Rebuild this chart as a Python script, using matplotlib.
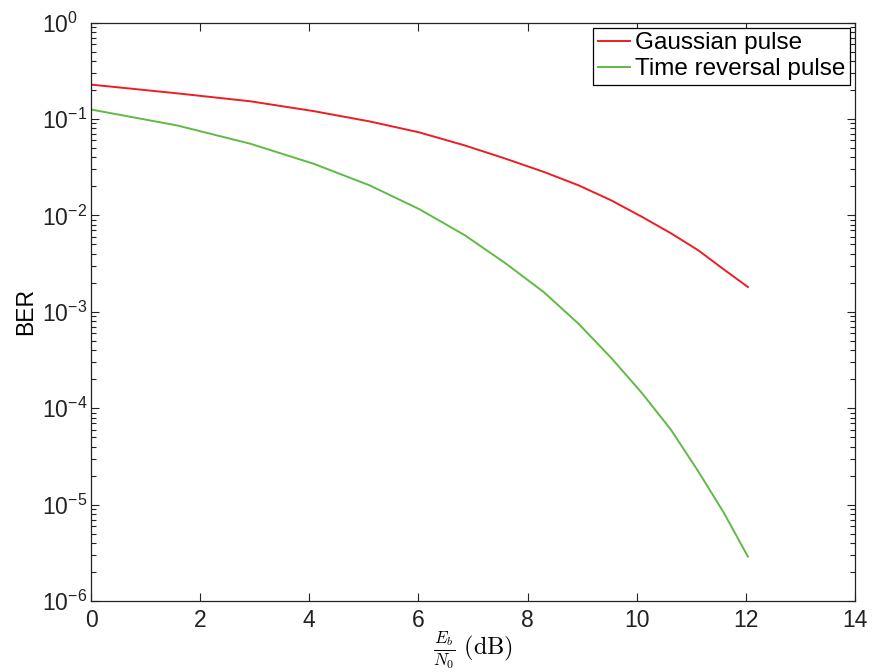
import matplotlib
matplotlib.use("Agg")
import matplotlib.pyplot as plt
from matplotlib.ticker import LogLocator, NullFormatter

# Eb/N0 (dB) sample points
ebn0_db = [0.0, 1.58, 2.92, 4.08, 5.11, 6.02, 6.85, 7.60, 8.30, 8.94,
           9.54, 10.10, 10.63, 11.13, 11.60, 12.04]

# BER values
ber_gaussian = [0.228, 0.185, 0.153, 0.121, 0.0945, 0.0727, 0.0533, 0.0388,
                0.0283, 0.0205, 0.0143, 0.00966, 0.00653, 0.00435, 0.00275, 0.00181]
ber_time_rev = [0.1257, 0.0859, 0.0555, 0.0344, 0.0205, 0.0116, 0.00624, 0.00318,
                0.00160, 7.48e-4, 3.30e-4, 1.43e-4, 5.97e-5, 2.21e-5, 8.2e-6, 2.88e-6]

labels = ["Gaussian pulse", "Time reversal pulse"]
y_ticks = [1e-6, 1e-5, 1e-4, 1e-3, 1e-2, 1e-1, 1e0]

plt.rcParams["font.family"] = ["Liberation Sans", "DejaVu Sans"]
plt.rcParams["mathtext.fontset"] = "custom"
plt.rcParams["mathtext.rm"] = "Liberation Sans"
plt.rcParams["mathtext.it"] = "Liberation Sans:italic"

fig = plt.figure(figsize=(8.75, 6.72), dpi=100)
ax = fig.add_axes([0.104, 0.1057, 0.873, 0.8605])

ax.semilogy(ebn0_db, ber_gaussian, color="#ee1c24", lw=1.4, label=labels[0])
ax.semilogy(ebn0_db, ber_time_rev, color="#5fba46", lw=1.4, label=labels[1])

ax.set_xlim(0, 14)
ax.set_ylim(1e-6, 1e0)
ax.set_xticks(range(0, 15, 2))
ax.set_yticks(y_ticks)
ax.yaxis.set_minor_locator(LogLocator(base=10, subs=range(2, 10), numticks=20))
ax.yaxis.set_minor_formatter(NullFormatter())

ax.tick_params(which="both", direction="in", top=True, right=True,
               labelsize=16.5, width=0.8, colors="#222222")
ax.tick_params(which="major", length=6)
ax.tick_params(which="minor", length=3.5)
ax.tick_params(axis="x", pad=6)
# MATLAB-style: the "10" bases line up on the left
ax.tick_params(axis="y", pad=35)
plt.setp(ax.get_yticklabels(), ha="left")
for s in ax.spines.values():
    s.set_linewidth(0.9)
    s.set_color("#222222")

ax.set_ylabel("BER", fontsize=16.5, labelpad=4)
ax.set_xlabel(r"$\frac{E_b}{N_0}\ \mathrm{(dB)}$", fontsize=17.5,
              math_fontfamily="cm", labelpad=-2)

leg = ax.legend(loc="upper right", fontsize=17.5, frameon=True, fancybox=False,
                framealpha=1, edgecolor="black", borderpad=0.2, labelspacing=0.15,
                handlelength=1.3, handletextpad=0.2, borderaxespad=0.2)
leg.get_frame().set_linewidth(0.9)

fig.savefig("out.png", dpi=100)
